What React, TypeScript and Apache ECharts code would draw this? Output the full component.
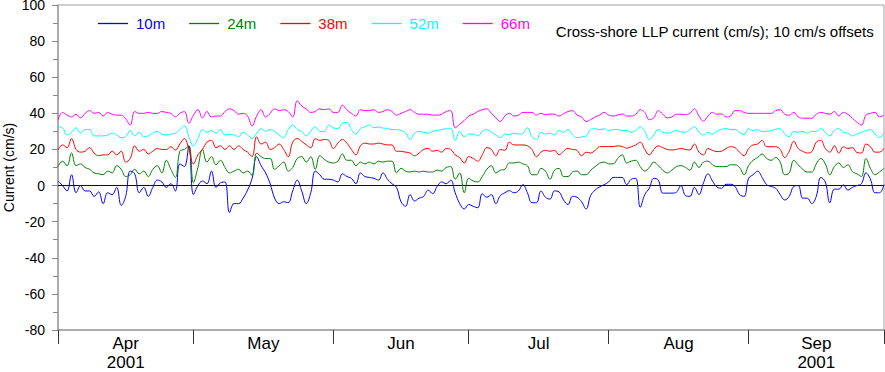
import { useEffect, useRef } from "react";
import * as echarts from "echarts";

// Days since 2001-04-01 (one value per day, 0..183), plotted with 10 cm/s offsets
const monthNames = ["Apr", "May", "Jun", "Jul", "Aug", "Sep"];
const monthStarts = [0, 30, 61, 91, 122, 153, 183];
const yearLabel = "2001";

const seriesNames = ["10m", "24m", "38m", "52m", "66m"];
const seriesColors = ["#0000ff", "#008000", "#ff0000", "#00ffff", "#ff00ff"];

const v10m = [
  2.5, 0, -3, 6, -4, 0, -3, -3, -6, -3.5, -10, -4, -5, -1, -11, -6, 8, 6.5, -4, -1, -6, -1, 3, 2, -1, 1, -3, 12, 10.5, 22, -5,
  0, 2.5, 1, 8, -1, 1.5, 2, -15, -10, -10, -7, -2.5, 4, 16, 11, 7, 1, -7, -10, -9, -9.5, -3, 3, -3, -10, -4, 8, 6, 3.5, 3.5, 3,
  2, 6.5, 5, 4, 1, 7, 5, 4.5, 4, 3, 7, 3.5, 1, -1, -9, -11.5, -5, -8.5, -7, -6, -2.5, -4.5, -0.5, 2, 1, 3, -4, -10, -13, -10.5,
  -11.5, -12.3, -4.5, -6.5, -5, -10, -5.5, -4, -2.8, -4, -3, 0.5, -4, -9.5, -9.5, -3, -6.5, -7.5, -3, -3.5, -8, -10.5, -6, -6.5, -9, -13, -5.5, -2.5, -0.7, 0.5, 2,
  4.5, 4.5, 4.5, 0.5, 3.5, 4, -12, -5, -1.5, 4, 3, -4.2, -4.2, -4.2, -3.7, 0, -5.5, -6, -1, -5, 1.5, 6.5, 2.5, -0.8, -1.5, 0.7, 0.7, -0.5, -5, -6, 4,
  6, 8, 4.5, 0.5, -0.5, -1.5, -5, -8, -6, -0.5, 0, -7, -7, -10, -6, 4.5, 2, -9.5, -2, -2, 0.4, -2.5, -1, 0, 1, 7, 3.5, -4, -4, 0.5,
];
const v24m = [
  10.5, 13.5, 11, 18, 11, 12, 10, 9, 7, 6.5, 6, 8, 7, 11, 9, 5, 6, 9, 6.5, 8, 5, 9, 11, 7, 14, 9, 4.5, 19, 20, 22, 1.5,
  10, 20, 13, 16, 11.5, 14, 10, 7, 8, 9, 7, 8, 5.5, 18, 16, 15, 15, 9, 11, 13, 8, 10, 15, 16, 13, 16, 9, 16.6, 14.5, 13, 12.5,
  13.5, 17.5, 14, 14, 11, 13, 12, 13, 12, 13.5, 13, 13.5, 13.5, 7, 9.5, 8, 7.5, 8, 7.5, 8, 7.5, 7.5, 8.5, 8, 10, 10.5, 3.5, 7, -4, 4,
  2.5, 2, 5, 9, 11, 7, 8.5, 9, 12.5, 12.5, 13, 12, 11, 6, 6, 9.5, 8, 3.5, 8.5, 9.5, 5, 5, 7.5, 8, 6, 6, 8.5, 10.5, 12.4, 13, 12,
  12, 15, 17, 12.5, 13.5, 14, 10.5, 8, 10, 13, 11, 8.5, 7, 8.5, 10.5, 11, 10, 8.5, 13, 10, 13, 13.5, 11.5, 10.5, 10.5, 10.5, 11.5, 11.5, 10, 6, 11,
  14, 15.5, 17.5, 15, 14, 15.5, 13, 6, 7, 14, 11.5, 9, 7.5, 7.5, 12, 15, 12, 6, 10.5, 12.5, 10, 11.5, 7.7, 6.5, 5, 15, 9.5, 6, 7.5, 9.5,
];
const v38m = [
  19.7, 22.5, 21, 26, 20, 18.5, 19, 21, 18, 16.5, 17, 17, 19, 17, 19, 13, 15, 22, 19, 20, 17.5, 19, 20.5, 20, 20, 21.5, 19.7, 23, 26, 20, 12,
  17, 20, 24, 25, 21, 22, 20, 22, 20, 22, 20, 18.5, 16, 27, 23, 24, 20, 21, 23, 20, 16, 24, 26, 24.5, 22.5, 21, 26, 25, 25.5, 25, 20.5,
  23.5, 25.5, 23.5, 20, 17, 22, 23.5, 23, 23, 23.5, 23, 22.5, 22.5, 19, 19, 18.5, 18, 16.5, 18, 20, 20.5, 19, 19.5, 18.5, 20.5, 20, 17, 15.5, 12.5, 16,
  15, 13.5, 17, 21, 20, 16.5, 20, 19.5, 24, 22.5, 22.5, 22.5, 22, 20, 16, 18.5, 19.5, 19, 19.5, 17, 19, 20.5, 20, 19.5, 16.5, 18.5, 18, 19.5, 21.5, 21.6, 21.6,
  21.6, 22, 21.6, 20.7, 21.5, 22.5, 24, 20, 17, 20, 22, 21, 20, 19.7, 20, 20.5, 20, 19.7, 23, 18.5, 17, 20.5, 19.5, 18.8, 19, 20.5, 21.5, 21, 18.5, 16.5, 20.5,
  22.5, 23, 25, 21.5, 21.5, 21.5, 20, 15.5, 19, 24.5, 20.5, 19, 18, 18.8, 24, 25, 20.5, 18.5, 22, 18, 21.5, 20.5, 21, 18.3, 18, 23, 21.5, 18.5, 18.5, 20.5,
];
const v52m = [
  32.6, 32, 28, 29.5, 32, 29, 31, 31, 27.5, 27.5, 27.5, 28, 29, 28, 26.5, 27, 30.5, 27.5, 29.5, 27, 27.5, 29, 30, 28.5, 28, 28.5, 29, 31, 33, 27, 22,
  26, 31, 29.5, 30.5, 29, 31, 28, 28.5, 28, 27, 29.5, 28, 26, 29, 31.5, 30, 31, 30, 28, 26.5, 31, 33.5, 31, 30, 27.5, 30, 32.6, 30, 30, 33.5, 32,
  31.5, 34.5, 35, 31, 28.5, 31.5, 32.5, 33.5, 32, 32.5, 31.8, 31.7, 31, 31, 30.5, 29, 25.5, 29, 30, 29.5, 29, 30, 30.5, 31, 31.5, 31.7, 25, 30, 27, 28.5,
  28.5, 27.5, 30, 31, 29.5, 28, 26.5, 28.5, 28.3, 29, 28.5, 29, 32, 27, 25.5, 29.5, 28.5, 29, 28, 30.5, 29.5, 31, 28, 26.5, 27, 27.5, 31, 31.5, 31, 31.5, 30.5,
  31, 31, 30.5, 30.5, 29.5, 30.5, 32.5, 30, 25.5, 28, 31, 29.5, 29, 29.5, 30.5, 29.8, 29.5, 31, 32.5, 29.5, 28, 29.5, 28.5, 30, 31.2, 31.5, 31, 31, 29.5, 28.3, 31.5,
  30.5, 31, 30, 30, 30.5, 31.2, 31.5, 28.5, 27, 30, 29.5, 30, 29, 30, 30, 31.5, 29.5, 27.5, 30.5, 31.5, 29.5, 29, 27.5, 28.5, 29.5, 30.5, 31, 28.5, 26.5, 29,
];
const v66m = [
  36.3, 40.5, 39, 38, 39.5, 37.5, 40, 41.5, 40, 40.5, 38.5, 40.5, 39.5, 39, 39, 37, 33.5, 41, 40, 40, 40.5, 40, 40, 41, 40.5, 40, 38, 40, 41, 34.5, 39,
  42, 37.5, 41, 38, 38.5, 38.5, 41, 42.5, 41.5, 39.5, 40, 38.5, 33, 38.5, 42, 38, 40, 42.5, 41.5, 42, 41, 38, 47, 44, 42.5, 40.5, 41, 42.5, 42, 42.5, 40.5,
  40.5, 44.5, 42, 40, 38.5, 42, 41.5, 41.5, 42, 40.5, 41, 42, 41, 39, 40, 41, 42, 40.5, 39.5, 39.5, 39.5, 39, 39, 39.5, 41, 41.5, 32, 34, 36, 38.5,
  39.5, 41, 42, 42.5, 40, 37.5, 35.5, 38.5, 40, 38.5, 39, 40.5, 40.5, 40.5, 39, 40, 39.3, 39.6, 39.5, 38.5, 39.8, 41, 41.5, 39, 38, 35.5, 36.5, 38, 39, 40.5, 39,
  38.5, 39, 39.7, 38.5, 38.5, 39.5, 42, 40.5, 36.5, 37.5, 41.5, 39.5, 37.5, 38, 39.5, 39.5, 39.3, 40, 42.5, 38.5, 35.7, 38.5, 40.5, 39.5, 39.7, 38, 38.5, 41.5, 41.5, 40.5, 40,
  40, 40, 40, 40, 40, 41.5, 42, 39.5, 39, 40.5, 38, 37.3, 37.3, 37.3, 39.5, 40.5, 40, 39.5, 41, 38.5, 40.5, 39.5, 37.3, 35, 33.5, 39, 40, 40.5, 38, 39,
];

const allValues = [v10m, v24m, v38m, v52m, v66m];
const titleText = "Cross-shore LLP current (cm/s); 10 cm/s offsets";
const yAxisName = "Current (cm/s)";

const FONT = "'Liberation Sans', Arial, Helvetica, sans-serif";

export default function App() {
  const ref = useRef<HTMLDivElement>(null);
  useEffect(() => {
    if (!ref.current) return;
    const chart = echarts.init(ref.current, undefined, { renderer: "svg" });
    const mids = monthNames.map((_, i) => (monthStarts[i] + monthStarts[i + 1]) / 2);
    const yearMids = [mids[0], mids[mids.length - 1]];
    const xMin = monthStarts[0];
    const xMax = monthStarts[monthStarts.length - 1];
    const option: any = {
      animation: false,
      backgroundColor: "#fff",
      textStyle: { fontFamily: FONT },
      title: {
        text: titleText,
        right: 11,
        top: 24,
        padding: 0,
        textStyle: { fontFamily: FONT, fontSize: 15, fontWeight: "normal", color: "#000" },
      },
      legend: {
        left: 98,
        top: 16,
        padding: 0,
        icon: "rect",
        itemWidth: 30,
        itemHeight: 1.3,
        itemGap: 24,
        data: seriesNames.map((n, i) => ({
          name: n,
          textStyle: { color: seriesColors[i] },
        })),
        textStyle: { fontFamily: FONT, fontSize: 15, padding: [0, 0, 0, 3] },
      },
      grid: {
        left: 58,
        top: 5,
        right: 1,
        bottom: 42,
        containLabel: false,
        outerBoundsMode: "none",
        show: true,
        borderColor: "#a0a0a0",
        borderWidth: 1,
      },
      xAxis: [
        {
          type: "value",
          min: xMin,
          max: xMax,
          axisLine: { show: true, onZero: false, lineStyle: { color: "#a0a0a0", width: 1.5 } },
          splitLine: { show: false },
          axisTick: {
            show: true,
            inside: false,
            length: 14,
            customValues: monthStarts,
            lineStyle: { color: "#333", width: 1 },
          },
          axisLabel: {
            customValues: mids,
            margin: 5,
            fontFamily: FONT,
            fontSize: 17,
            lineHeight: 17,
            color: "#000",
            formatter: (v: number) => {
              const i = mids.findIndex((m) => Math.abs(m - v) < 0.01);
              return i < 0 ? "" : monthNames[i];
            },
          },
        },
        {
          type: "value",
          position: "bottom",
          min: xMin,
          max: xMax,
          axisLine: { show: false, onZero: false },
          splitLine: { show: false },
          axisTick: { show: false },
          axisLabel: {
            customValues: yearMids,
            margin: 24,
            fontFamily: FONT,
            fontSize: 17,
            lineHeight: 17,
            color: "#000",
            formatter: () => yearLabel,
          },
        },
      ],
      yAxis: {
        type: "value",
        min: -80,
        max: 100,
        interval: 20,
        name: yAxisName,
        nameLocation: "middle",
        nameGap: 42,
        nameMoveOverlap: false,
        nameTextStyle: { fontFamily: FONT, fontSize: 14, color: "#000" },
        axisLine: { show: true, onZero: false, lineStyle: { color: "#a0a0a0", width: 1.5 } },
        splitLine: { show: false },
        axisTick: { show: true, inside: false, length: 6, lineStyle: { color: "#888" } },
        minorTick: { show: true, splitNumber: 2, length: 5, lineStyle: { color: "#888" } },
        axisLabel: { fontFamily: FONT, fontSize: 14, lineHeight: 14, color: "#000", margin: 13 },
      },
      series: seriesNames.map((n, i) => ({
        name: n,
        type: "line",
        xAxisIndex: 0,
        data: allValues[i].map((v, d) => [d, v]),
        showSymbol: false,
        symbol: "none",
        smooth: 0.4,
        lineStyle: { color: seriesColors[i], width: 1 },
        itemStyle: { color: seriesColors[i] },
        z: 3,
        ...(i === 0
          ? {
              markLine: {
                silent: true,
                symbol: "none",
                label: { show: false },
                lineStyle: { color: "#111", width: 1, type: "solid" },
                data: [{ yAxis: 0 }],
                z: 2,
              },
            }
          : {}),
      })),
    };
    chart.setOption(option);
    return () => chart.dispose();
  }, []);
  return (
    <div
      ref={ref}
      style={{ position: "fixed", left: 0, top: 0, width: 885, height: 372 }}
    />
  );
}
